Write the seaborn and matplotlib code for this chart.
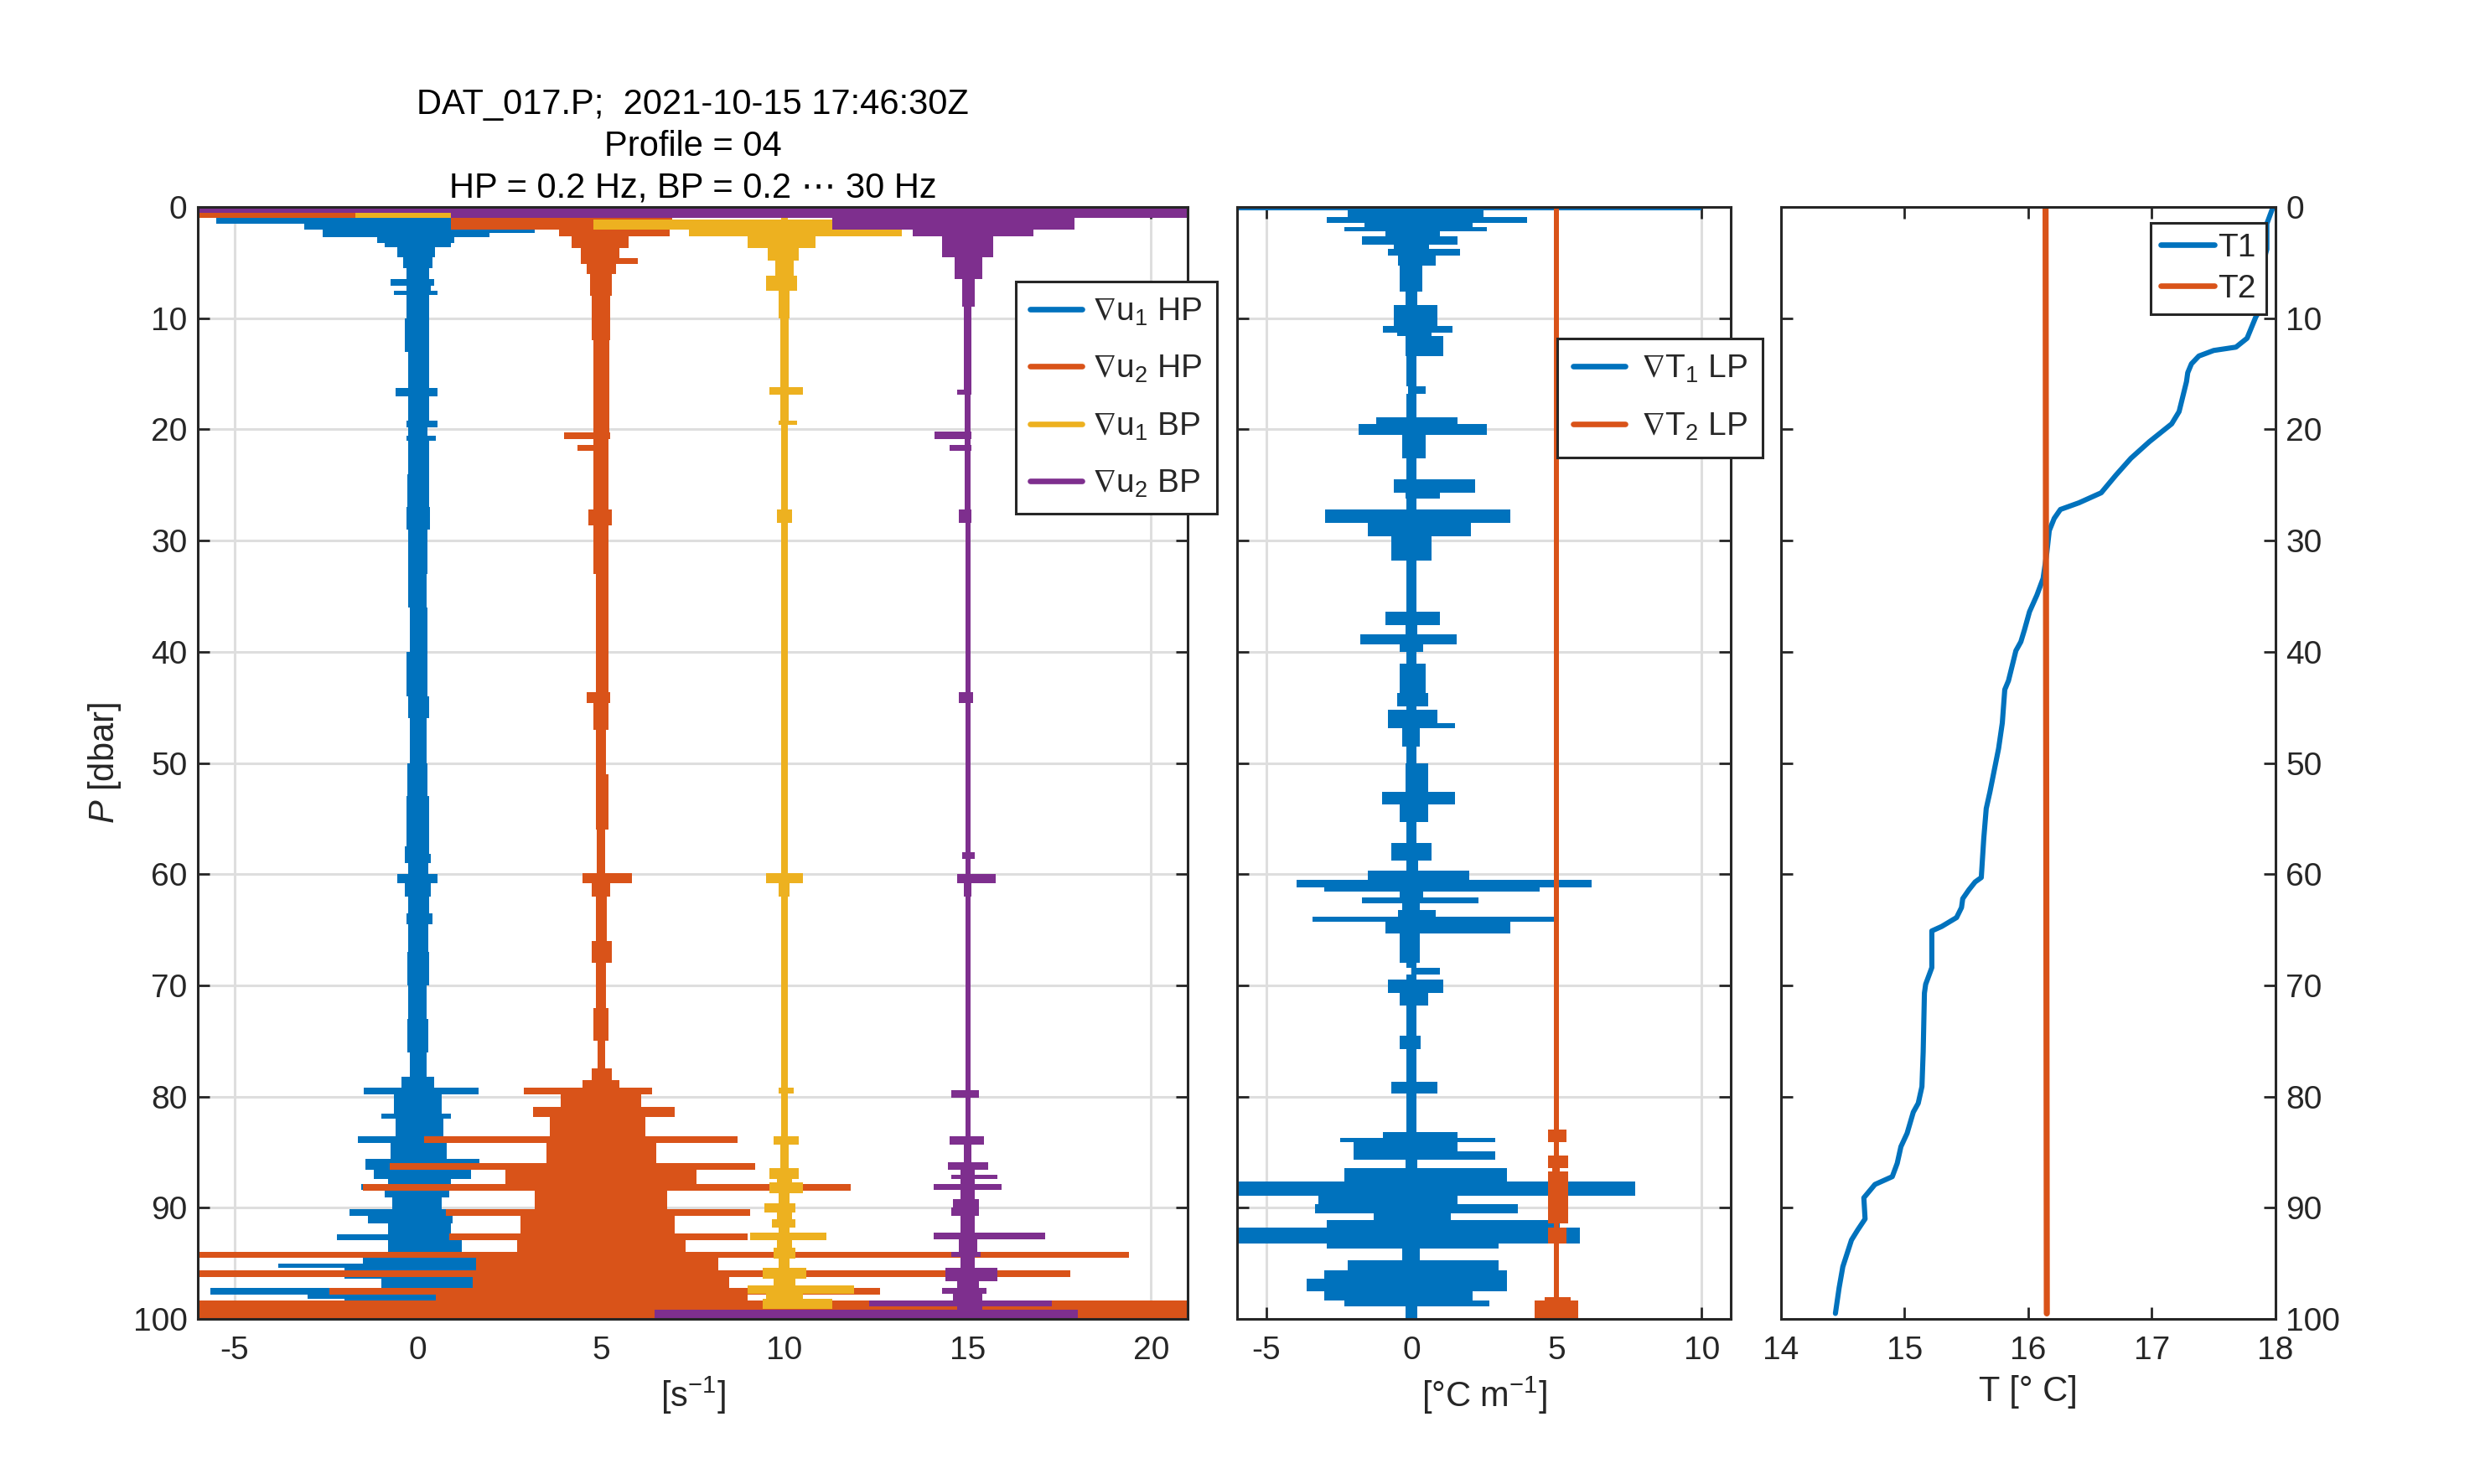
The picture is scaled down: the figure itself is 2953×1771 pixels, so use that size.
import pandas as pd
import seaborn as sns
import matplotlib.pyplot as plt
from matplotlib.lines import Line2D

# MATLAB default colour order
BLUE, ORANGE, YELLOW, PURPLE = '#0072BD', '#D95319', '#EDB120', '#7E2F8E'

# ---- panel 1: shear traces, node depth [dbar] and left / right edge of the trace
p_u1hp = [0.0, 1.0, 1.5, 2.0, 2.3, 2.7, 3.2, 3.6, 4.5, 5.5,
          6.5, 7.1, 7.5, 7.9, 10.0, 13.0, 16.3, 17.0, 19.2, 19.8,
          20.6, 21.0, 24.0, 27.0, 29.0, 33.0, 36.0, 40.0, 44.0, 46.0,
          50.0, 53.0, 57.5, 58.2, 59.0, 60.0, 60.8, 62.0, 63.5, 64.5,
          67.0, 70.0, 73.0, 76.0, 78.2, 79.2, 79.8, 81.5, 82.0, 83.6,
          84.2, 85.6, 86.6, 87.4, 87.9, 88.4, 89.1, 90.1, 90.7, 91.4,
          92.4, 92.9, 94.0, 95.0, 95.4, 96.4, 97.2, 97.8, 98.2, 99.9]
lo_u1hp = [-5.5, -5.5, -3.1, -2.6, -2.6, -1.1, -0.9, -0.55, -0.4, -0.3,
           -0.73, -0.3, -0.65, -0.3, -0.35, -0.25, -0.6, -0.25, -0.3, -0.25,
           -0.3, -0.25, -0.28, -0.3, -0.25, -0.27, -0.22, -0.3, -0.27, -0.22,
           -0.28, -0.3, -0.35, -0.35, -0.25, -0.56, -0.35, -0.25, -0.3, -0.25,
           -0.28, -0.25, -0.28, -0.22, -0.45, -1.47, -0.65, -1.0, -0.6, -1.63,
           -0.75, -1.42, -1.2, -0.8, -1.55, -0.9, -0.7, -1.85, -1.35, -0.8,
           -2.2, -0.8, -1.5, -3.8, -2.0, -1.0, -5.65, -3.0, -2.0, -2.0]
hi_u1hp = [3.1, 1.0, 3.1, 3.2, 1.95, 1.0, 0.9, 0.48, 0.4, 0.3,
           0.45, 0.35, 0.55, 0.3, 0.3, 0.3, 0.53, 0.3, 0.55, 0.27,
           0.5, 0.3, 0.3, 0.33, 0.27, 0.25, 0.27, 0.27, 0.3, 0.25,
           0.27, 0.32, 0.3, 0.35, 0.28, 0.53, 0.35, 0.3, 0.4, 0.28,
           0.3, 0.25, 0.28, 0.25, 0.45, 1.65, 0.65, 0.9, 0.7, 1.17,
           0.8, 1.69, 1.45, 0.9, 1.45, 0.85, 0.65, 1.17, 0.95, 0.9,
           1.6, 1.2, 1.6, 1.8, 1.6, 1.9, 1.95, 1.0, 1.0, 1.0]

p_u2hp = [0.4, 1.0, 2.0, 2.6, 3.7, 4.6, 5.1, 6.0, 8.0, 12.0,
          20.3, 20.9, 21.4, 21.9, 27.2, 28.6, 33.0, 43.6, 44.6, 47.0,
          51.0, 56.0, 59.9, 60.8, 62.0, 66.0, 68.0, 72.0, 75.0, 77.5,
          78.5, 79.2, 79.8, 80.9, 81.8, 83.6, 84.2, 86.0, 86.6, 87.9,
          88.5, 90.1, 90.7, 92.3, 92.9, 94.0, 94.5, 95.6, 96.2, 97.2,
          97.8, 98.3, 99.9]
lo_u2hp = [-6.0, 0.9, 3.85, 4.2, 4.45, 4.45, 4.6, 4.7, 4.75, 4.78,
           3.98, 4.8, 4.36, 4.8, 4.65, 4.8, 4.85, 4.6, 4.8, 4.87,
           4.85, 4.88, 4.5, 4.75, 4.85, 4.75, 4.87, 4.8, 4.9, 4.75,
           4.5, 2.9, 3.9, 3.15, 3.6, 0.18, 3.5, -0.77, 2.4, -1.5,
           3.2, 0.77, 2.8, 0.87, 2.7, -6.0, 1.6, -6.0, 1.5, -2.4,
           0.5, -6.0, -6.0]
hi_u2hp = [0.9, 6.95, 6.87, 5.75, 5.5, 6.0, 5.4, 5.3, 5.25, 5.22,
           5.25, 5.2, 5.2, 5.2, 5.3, 5.2, 5.2, 5.25, 5.2, 5.13,
           5.2, 5.12, 5.85, 5.25, 5.15, 5.3, 5.13, 5.2, 5.1, 5.3,
           5.5, 6.4, 6.1, 7.0, 6.2, 8.73, 6.5, 9.2, 7.6, 11.8,
           6.8, 9.06, 7.0, 9.0, 7.3, 19.4, 8.2, 17.8, 8.5, 12.6,
           9.0, 21.0, 21.0]

p_u1bp = [0.5, 1.0, 1.15, 2.0, 2.6, 3.7, 4.8, 6.2, 7.5, 10.0,
          16.2, 16.9, 19.2, 19.6, 27.2, 28.4, 59.9, 60.8, 62.0, 79.2,
          79.7, 83.6, 84.3, 86.4, 87.4, 87.7, 88.7, 89.6, 90.4, 91.0,
          91.8, 92.2, 92.9, 93.6, 94.6, 95.4, 96.4, 97.0, 97.7, 98.2,
          99.1]
lo_u1bp = [-1.7, 9.9, 4.8, 7.4, 9.0, 9.55, 9.75, 9.5, 9.85, 9.88,
           9.6, 9.88, 9.85, 9.9, 9.8, 9.9, 9.5, 9.85, 9.9, 9.85,
           9.9, 9.7, 9.88, 9.6, 9.8, 9.6, 9.85, 9.45, 9.8, 9.65,
           9.85, 9.06, 9.8, 9.7, 9.85, 9.4, 9.7, 9.0, 9.5, 9.4,
           9.4]
hi_u1bp = [0.9, 10.1, 11.3, 13.2, 10.85, 10.4, 10.25, 10.35, 10.15, 10.12,
           10.5, 10.12, 10.35, 10.1, 10.2, 10.1, 10.5, 10.15, 10.1, 10.25,
           10.1, 10.4, 10.12, 10.4, 10.2, 10.5, 10.15, 10.3, 10.2, 10.3,
           10.15, 11.15, 10.2, 10.3, 10.15, 10.6, 10.3, 11.9, 10.5, 11.3,
           11.3]

p_u2bp = [0.0, 0.5, 1.0, 2.0, 2.6, 4.5, 6.5, 9.0, 16.4, 16.9,
          20.2, 20.9, 21.4, 21.9, 27.2, 28.4, 43.6, 44.6, 58.0, 58.6,
          60.0, 60.8, 62.0, 79.4, 80.1, 83.6, 84.3, 85.9, 86.6, 87.0,
          87.4, 87.9, 88.4, 89.2, 90.0, 90.7, 92.2, 92.8, 94.0, 94.4,
          95.4, 96.6, 97.2, 97.7, 98.3, 98.9, 99.2, 99.9]
lo_u2bp = [-6.0, 0.9, 11.3, 13.5, 14.3, 14.65, 14.85, 14.9, 14.7, 14.92,
           14.1, 14.92, 14.5, 14.92, 14.75, 14.93, 14.75, 14.93, 14.85, 14.93,
           14.7, 14.9, 14.93, 14.55, 14.93, 14.5, 14.9, 14.45, 14.8, 14.55,
           14.8, 14.07, 14.8, 14.6, 14.55, 14.8, 14.07, 14.75, 14.55, 14.8,
           14.4, 14.7, 14.3, 14.6, 12.3, 14.7, 6.47, 6.47]
hi_u2bp = [21.0, 21.0, 17.9, 16.8, 15.7, 15.4, 15.2, 15.1, 15.1, 15.08,
           15.1, 15.08, 15.1, 15.08, 15.1, 15.07, 15.15, 15.07, 15.2, 15.07,
           15.76, 15.1, 15.07, 15.3, 15.07, 15.45, 15.1, 15.55, 15.2, 15.8,
           15.2, 15.93, 15.2, 15.3, 15.3, 15.2, 17.1, 15.25, 15.35, 15.2,
           15.8, 15.3, 15.5, 15.4, 17.3, 15.4, 18.0, 18.0]

# ---- panel 2: temperature gradient traces
p_t1lp = [0.0, 0.3, 0.9, 1.4, 1.8, 2.2, 2.6, 3.4, 3.8, 4.4,
          5.3, 7.6, 8.8, 10.7, 11.3, 11.6, 13.4, 16.1, 16.8, 18.9,
          19.5, 20.5, 22.6, 24.5, 25.7, 26.2, 27.2, 28.4, 29.6, 31.8,
          36.4, 37.6, 38.4, 39.3, 40.0, 41.1, 43.7, 44.9, 45.2, 46.4,
          46.9, 48.5, 50.0, 52.6, 53.7, 55.3, 57.2, 58.8, 59.7, 60.5,
          61.2, 61.6, 62.1, 62.6, 63.2, 63.8, 64.3, 65.3, 68.0, 68.4,
          69.0, 69.5, 70.7, 71.8, 74.5, 75.7, 78.7, 79.7, 83.2, 83.7,
          84.1, 84.9, 85.7, 86.4, 87.6, 88.9, 89.7, 90.5, 91.1, 91.8,
          93.2, 93.7, 94.7, 95.6, 96.4, 97.5, 98.3, 98.9, 99.9]
lo_t1lp = [-6.0, -2.2, -2.9, -1.6, -2.3, -0.9, -1.7, -0.6, -0.8, -0.46,
           -0.4, -0.2, -0.6, -0.97, -0.5, -0.2, -0.18, -0.1, -0.18, -1.2,
           -1.8, -0.3, -0.18, -0.6, -0.2, -0.18, -2.96, -1.5, -0.7, -0.18,
           -0.9, -0.2, -1.75, -0.4, -0.18, -0.4, -0.5, -0.18, -0.8, -0.8,
           -0.3, -0.18, -0.2, -1.0, -0.4, -0.18, -0.7, -0.18, -1.5, -3.94,
           -3.0, -0.4, -1.7, -0.3, -0.46, -3.4, -0.9, -0.4, -0.18, 0.0,
           -0.18, -0.8, -0.4, -0.18, -0.4, -0.18, -0.7, -0.18, -0.98, -2.45,
           -2.0, -2.0, -0.2, -2.3, -6.0, -3.2, -3.3, -1.3, -2.9, -6.0,
           -2.9, -0.3, -2.2, -3.0, -3.6, -3.0, -2.3, -0.2, -0.2]
hi_t1lp = [10.0, 2.5, 4.0, 2.1, 2.6, 1.0, 1.6, 0.6, 1.68, 0.83,
           0.37, 0.2, 0.9, 1.43, 0.7, 1.1, 0.18, 0.5, 0.18, 1.6,
           2.6, 0.5, 0.18, 2.2, 1.0, 0.18, 3.4, 2.05, 0.7, 0.18,
           1.0, 0.2, 1.55, 0.4, 0.18, 0.5, 0.57, 0.18, 0.9, 1.5,
           0.3, 0.18, 0.57, 1.5, 0.57, 0.18, 0.7, 0.25, 2.0, 6.2,
           4.43, 0.4, 2.3, 0.3, 0.83, 4.95, 3.4, 0.3, 0.18, 1.0,
           0.18, 1.1, 0.57, 0.18, 0.33, 0.18, 0.9, 0.18, 1.6, 2.9,
           1.6, 2.9, 0.2, 3.3, 7.7, 1.6, 3.66, 1.35, 5.1, 5.8,
           3.0, 0.3, 3.0, 3.3, 3.3, 2.1, 2.7, 0.2, 0.2]

p_t2lp = [0.1, 83.0, 84.1, 85.3, 86.4, 86.7, 91.4, 91.8, 93.2, 98.0, 98.3, 99.9]
lo_t2lp = [4.92, 4.7, 4.92, 4.7, 4.85, 4.7, 4.92, 4.7, 4.92, 4.6, 4.25, 4.25]
hi_t2lp = [5.08, 5.35, 5.08, 5.4, 5.1, 5.4, 5.08, 5.35, 5.08, 5.5, 5.75, 5.75]

# ---- panel 3: temperature profiles
p_T1 = [0.0, 0.3, 1.5, 3.8, 4.2, 9.5, 9.9, 11.8, 12.6, 12.9,
        13.4, 14.1, 14.9, 15.7, 18.4, 19.5, 21.1, 22.6, 24.1, 25.7,
        26.6, 27.2, 28.0, 29.1, 31.1, 33.4, 34.9, 36.4, 38.0, 39.1,
        39.9, 42.6, 43.4, 46.4, 48.7, 52.6, 54.1, 56.8, 60.3, 60.7,
        61.4, 62.2, 63.0, 63.9, 64.7, 65.1, 68.4, 69.9, 70.7, 76.0,
        79.1, 80.6, 81.4, 83.3, 84.5, 86.0, 87.2, 87.9, 89.1, 91.0,
        92.0, 92.9, 95.3, 97.2, 99.5]
T1 = [17.98, 17.97, 17.93, 17.93, 17.92, 17.86, 17.84, 17.77, 17.68, 17.50,
      17.38, 17.32, 17.29, 17.28, 17.22, 17.16, 16.98, 16.83, 16.71, 16.59,
      16.41, 16.26, 16.21, 16.17, 16.15, 16.12, 16.07, 16.01, 15.97, 15.94,
      15.90, 15.84, 15.81, 15.79, 15.76, 15.69, 15.66, 15.64, 15.62, 15.57,
      15.52, 15.47, 15.46, 15.42, 15.30, 15.22, 15.22, 15.17, 15.16, 15.15,
      15.14, 15.11, 15.07, 15.02, 14.97, 14.94, 14.90, 14.76, 14.67, 14.68,
      14.62, 14.57, 14.50, 14.47, 14.44]
p_T2 = [0.1, 99.5]
T2 = [16.14, 16.15]

title = 'DAT_017.P;  2021-10-15 17:46:30Z\nProfile = 04\nHP = 0.2 Hz, BP = 0.2 \u22ef 30 Hz'

sns.set_theme(style='ticks')
plt.rcParams['font.family'] = ['Liberation Sans', 'DejaVu Sans']
plt.rcParams['font.size'] = 14
plt.rcParams['axes.unicode_minus'] = False
plt.rcParams['mathtext.fontset'] = 'custom'
plt.rcParams['mathtext.rm'] = 'Liberation Sans'
plt.rcParams['mathtext.it'] = 'Liberation Sans:italic'
plt.rcParams['mathtext.default'] = 'regular'
plt.rcParams['mathtext.fallback'] = 'stixsans'

INK = '#262626'
TICK = 14
LABEL = 15


def trace(ax, p, lo, hi, color):
    # min/max band of the two edges at each node depth, drawn as steps
    df = pd.DataFrame({'P': p + p, 'x': lo + hi})
    sns.lineplot(data=df, x='x', y='P', orient='y', estimator='mean',
                 errorbar=('pi', 100), color=color, lw=0, ax=ax,
                 err_kws={'alpha': 1, 'step': 'post', 'lw': 0})


def style(ax, xlim, xticks):
    ax.set_xlim(*xlim)
    ax.set_ylim(100, 0)
    ax.set_xticks(xticks)
    ax.set_yticks(range(0, 101, 10))
    ax.tick_params(direction='in', top=True, right=True, length=5, width=1.0,
                   labelsize=TICK, colors=INK)
    ax.tick_params(axis='x', pad=7)
    ax.tick_params(axis='y', pad=4.5)
    for s in ax.spines.values():
        s.set_color(INK)
        s.set_linewidth(1.1)
    ax.set_axisbelow(True)


def box_legend(ax, handles, labels, anchor, **kw):
    leg = ax.legend(handles, labels, loc='upper left', bbox_to_anchor=anchor,
                    fontsize=14, frameon=True, fancybox=False, framealpha=1,
                    edgecolor=INK, borderaxespad=0, **kw)
    leg.get_frame().set_linewidth(1.1)
    return leg


fig = plt.figure(figsize=(2953 / 200, 1771 / 200), dpi=200)
ax1 = fig.add_axes([0.0799, 0.1112, 0.400, 0.7493])
ax2 = fig.add_axes([0.4998, 0.1112, 0.1995, 0.7493])
ax3 = fig.add_axes([0.7196, 0.1112, 0.1998, 0.7493])

# panel 1
trace(ax1, p_u1hp, lo_u1hp, hi_u1hp, BLUE)
trace(ax1, p_u2hp, lo_u2hp, hi_u2hp, ORANGE)
trace(ax1, p_u1bp, lo_u1bp, hi_u1bp, YELLOW)
trace(ax1, p_u2bp, lo_u2bp, hi_u2bp, PURPLE)
style(ax1, (-6, 21), [-5, 0, 5, 10, 15, 20])
ax1.grid(True, color='#dedede', lw=1.1)
ax1.set_xlabel('[s$^{-1}$]', fontsize=LABEL, color=INK)
ax1.set_ylabel(r'$\mathit{P}$ [dbar]', fontsize=LABEL, color=INK)
ax1.set_title(title, fontsize=LABEL, color='black', pad=4, linespacing=1.32)
h1 = [Line2D([], [], color=c, lw=2.4) for c in (BLUE, ORANGE, YELLOW, PURPLE)]
l1 = [r'$\nabla$u$_1$ HP', r'$\nabla$u$_2$ HP', r'$\nabla$u$_1$ BP', r'$\nabla$u$_2$ BP']
box_legend(ax1, h1, l1, (0.826, 0.933), handlelength=1.6, handletextpad=0.3,
           labelspacing=0.8, borderpad=0.45)

# panel 2
trace(ax2, p_t1lp, lo_t1lp, hi_t1lp, BLUE)
trace(ax2, p_t2lp, lo_t2lp, hi_t2lp, ORANGE)
style(ax2, (-6, 11), [-5, 0, 5, 10])
ax2.tick_params(labelleft=False)
ax2.grid(True, color='#dedede', lw=1.1)
ax2.set_xlabel('[\u00b0C m$^{-1}$]', fontsize=LABEL, color=INK)
ax2.set_ylabel('')
h2 = [Line2D([], [], color=c, lw=2.4) for c in (BLUE, ORANGE)]
l2 = [r'$\nabla$T$_1$ LP', r'$\nabla$T$_2$ LP']
box_legend(ax2, h2, l2, (0.649, 0.882), handlelength=1.6, handletextpad=0.5,
           labelspacing=0.8, borderpad=0.47)

# panel 3
sns.lineplot(x=T1, y=p_T1, orient='y', sort=False, color=BLUE, lw=2.2,
             ax=ax3, label='T1')
sns.lineplot(x=T2, y=p_T2, orient='y', sort=False, color=ORANGE, lw=2.6,
             ax=ax3, label='T2')
style(ax3, (14, 18), [14, 15, 16, 17, 18])
ax3.tick_params(labelleft=False, labelright=True)
ax3.set_xlabel('T [\u00b0 C]', fontsize=LABEL, color=INK)
ax3.set_ylabel('')
h3, l3 = ax3.get_legend_handles_labels()
leg = box_legend(ax3, h3, l3, (0.747, 0.986), handlelength=1.65,
                 handletextpad=0.1, labelspacing=0.33, borderpad=0.32)
for line in leg.get_lines():
    line.set_linewidth(2.4)

fig.savefig('out.png', dpi=200)
